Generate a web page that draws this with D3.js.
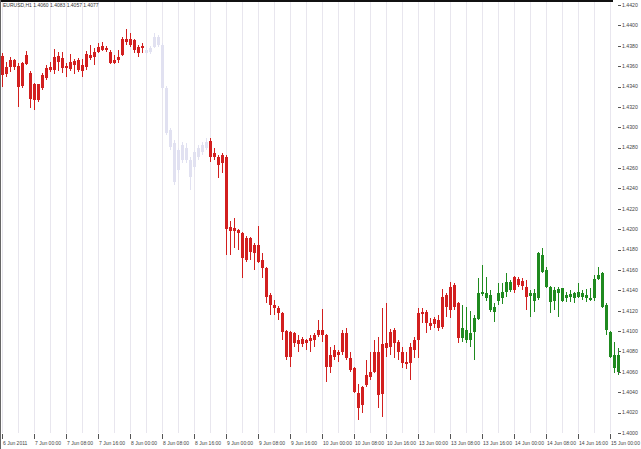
<!DOCTYPE html>
<html>
<head>
<meta charset="utf-8">
<script src="https://cdn.jsdelivr.net/npm/d3@7"></script>
<style>
  html, body { margin: 0; padding: 0; background: #fff; }
  svg { display: block; }
  text { font-family: "Liberation Sans", Arial, sans-serif; }
</style>
</head>
<body>
<div class="chart"></div>
<script>
// EURUSD H1 bars
const opens = [
  1.4370,1.4352,1.4359,1.4366,1.4360,1.4341,1.4371,1.4353,1.4342,1.4327,
  1.4339,1.4348,1.4356,1.4356,1.4370,1.4368,1.4358,1.4357,1.4361,1.4366,
  1.4355,1.4359,1.4368,1.4369,1.4374,1.4380,1.4378,1.4374,1.4363,1.4366,
  1.4371,1.4387,1.4387,1.4386,1.4373,1.4380,1.4373,1.4374,1.4379,1.4389,
  1.4381,1.4339,1.4297,1.4285,1.4258,1.4283,1.4280,1.4251,1.4261,1.4271,
  1.4276,1.4280,1.4287,1.4275,1.4263,1.4273,1.4271,1.4198,1.4201,1.4199,
  1.4196,1.4170,1.4191,1.4177,1.4184,1.4170,1.4162,1.4135,1.4126,1.4123,
  1.4118,1.4100,1.4075,1.4098,1.4087,1.4092,1.4088,1.4090,1.4091,1.4096,
  1.4101,1.4096,1.4065,1.4081,1.4077,1.4079,1.4098,1.4074,1.4064,1.4039,
  1.4027,1.4047,1.4055,1.4060,1.4079,1.4038,1.4083,1.4084,1.4101,1.4089,
  1.4079,1.4068,1.4069,1.4081,1.4091,1.4119,1.4119,1.4105,1.4112,1.4103,
  1.4104,1.4124,1.4121,1.4145,1.4128,1.4093,1.4101,1.4091,1.4099,1.4112,
  1.4138,1.4137,1.4135,1.4119,1.4130,1.4132,1.4138,1.4140,1.4153,1.4145,
  1.4149,1.4143,1.4134,1.4137,1.4132,1.4175,1.4160,1.4143,1.4130,1.4141,
  1.4142,1.4132,1.4133,1.4132,1.4138,1.4133,1.4135,1.4131,1.4132,1.4151,
  1.4157,1.4126,1.4099,1.4077,1.4060
];
const highs = [
  1.4373,1.4364,1.4369,1.4367,1.4363,1.4364,1.4375,1.4355,1.4343,1.4342,
  1.4353,1.4361,1.4364,1.4377,1.4374,1.4374,1.4363,1.4372,1.4367,1.4368,
  1.4367,1.4375,1.4381,1.4378,1.4383,1.4384,1.4380,1.4376,1.4371,1.4376,
  1.4389,1.4396,1.4393,1.4387,1.4381,1.4383,1.4379,1.4380,1.4393,1.4391,
  1.4383,1.4341,1.4299,1.4288,1.4280,1.4286,1.4285,1.4271,1.4278,1.4283,
  1.4286,1.4289,1.4289,1.4280,1.4273,1.4275,1.4273,1.4208,1.4211,1.4200,
  1.4197,1.4193,1.4192,1.4186,1.4203,1.4177,1.4163,1.4137,1.4131,1.4125,
  1.4119,1.4101,1.4100,1.4099,1.4096,1.4094,1.4092,1.4096,1.4098,1.4111,
  1.4122,1.4097,1.4084,1.4086,1.4081,1.4101,1.4103,1.4079,1.4065,1.4048,
  1.4046,1.4072,1.4079,1.4091,1.4094,1.4123,1.4128,1.4102,1.4103,1.4091,
  1.4084,1.4079,1.4088,1.4094,1.4123,1.4123,1.4121,1.4113,1.4114,1.4116,
  1.4141,1.4137,1.4148,1.4147,1.4129,1.4126,1.4124,1.4120,1.4116,1.4152,
  1.4165,1.4153,1.4140,1.4128,1.4147,1.4147,1.4157,1.4150,1.4154,1.4153,
  1.4152,1.4150,1.4140,1.4141,1.4178,1.4182,1.4163,1.4144,1.4143,1.4143,
  1.4142,1.4138,1.4140,1.4138,1.4147,1.4140,1.4141,1.4142,1.4155,1.4163,
  1.4158,1.4128,1.4100,1.4089,1.4083
];
const lows = [
  1.4340,1.4349,1.4354,1.4356,1.4320,1.4339,1.4361,1.4319,1.4317,1.4325,
  1.4337,1.4346,1.4354,1.4352,1.4355,1.4353,1.4349,1.4355,1.4352,1.4354,
  1.4349,1.4356,1.4366,1.4361,1.4373,1.4375,1.4374,1.4362,1.4362,1.4363,
  1.4370,1.4381,1.4379,1.4373,1.4369,1.4373,1.4371,1.4372,1.4378,1.4379,
  1.4337,1.4292,1.4278,1.4243,1.4255,1.4265,1.4265,1.4238,1.4258,1.4268,
  1.4273,1.4278,1.4266,1.4268,1.4250,1.4255,1.4175,1.4175,1.4182,1.4180,
  1.4152,1.4168,1.4170,1.4160,1.4167,1.4152,1.4128,1.4116,1.4116,1.4111,
  1.4091,1.4072,1.4065,1.4084,1.4079,1.4084,1.4081,1.4079,1.4084,1.4094,
  1.4089,1.4050,1.4059,1.4072,1.4070,1.4077,1.4072,1.4060,1.4039,1.4013,
  1.4020,1.4045,1.4052,1.4059,1.4025,1.4016,1.4075,1.4077,1.4074,1.4072,
  1.4064,1.4063,1.4052,1.4074,1.4074,1.4108,1.4098,1.4101,1.4103,1.4100,
  1.4102,1.4114,1.4113,1.4121,1.4088,1.4089,1.4088,1.4084,1.4072,1.4111,
  1.4134,1.4130,1.4119,1.4109,1.4126,1.4127,1.4133,1.4138,1.4137,1.4143,
  1.4140,1.4121,1.4114,1.4119,1.4131,1.4157,1.4142,1.4118,1.4121,1.4114,
  1.4129,1.4129,1.4129,1.4128,1.4132,1.4131,1.4129,1.4130,1.4130,1.4150,
  1.4123,1.4096,1.4074,1.4059,1.4057
];
const closes = [
  1.4351,1.4359,1.4366,1.4359,1.4340,1.4363,1.4362,1.4328,1.4327,1.4342,
  1.4351,1.4358,1.4359,1.4369,1.4364,1.4358,1.4360,1.4364,1.4365,1.4356,
  1.4361,1.4372,1.4371,1.4374,1.4379,1.4376,1.4376,1.4363,1.4366,1.4369,
  1.4387,1.4384,1.4381,1.4376,1.4379,1.4378,1.4376,1.4378,1.4389,1.4381,
  1.4339,1.4294,1.4281,1.4246,1.4278,1.4268,1.4268,1.4268,1.4276,1.4280,
  1.4283,1.4286,1.4271,1.4271,1.4271,1.4265,1.4200,1.4202,1.4198,1.4196,
  1.4172,1.4191,1.4178,1.4184,1.4168,1.4162,1.4133,1.4126,1.4123,1.4118,
  1.4099,1.4075,1.4099,1.4088,1.4091,1.4087,1.4091,1.4093,1.4096,1.4101,
  1.4096,1.4065,1.4077,1.4075,1.4079,1.4098,1.4074,1.4062,1.4040,1.4025,
  1.4045,1.4057,1.4060,1.4079,1.4037,1.4087,1.4088,1.4099,1.4088,1.4079,
  1.4069,1.4070,1.4084,1.4091,1.4118,1.4117,1.4108,1.4108,1.4107,1.4111,
  1.4133,1.4135,1.4143,1.4124,1.4093,1.4103,1.4091,1.4098,1.4113,1.4137,
  1.4136,1.4132,1.4121,1.4124,1.4137,1.4138,1.4148,1.4148,1.4140,1.4151,
  1.4144,1.4133,1.4137,1.4130,1.4177,1.4158,1.4143,1.4129,1.4140,1.4137,
  1.4130,1.4135,1.4136,1.4137,1.4133,1.4137,1.4132,1.4132,1.4151,1.4155,
  1.4124,1.4101,1.4075,1.4064,1.4077
];

// colour bands along the history (bar index where each band starts)
const segmentStarts = [0, 36, 52, 115, 128, 132];
const segmentKinds = ["red", "faded", "red", "green", "red", "green"];

const priceTicks = [1.4000, 1.4020, 1.4040, 1.4060, 1.4080, 1.4100, 1.4120, 1.4140,
  1.4160, 1.4180, 1.4200, 1.4220, 1.4240, 1.4260, 1.4280, 1.4300, 1.4320, 1.4340,
  1.4360, 1.4380, 1.4400, 1.4420];
const timeLabels = ["6 Jun 2011", "7 Jun 00:00", "7 Jun 08:00", "7 Jun 16:00",
  "8 Jun 00:00", "8 Jun 08:00", "8 Jun 16:00", "9 Jun 00:00", "9 Jun 08:00",
  "9 Jun 16:00", "10 Jun 00:00", "10 Jun 08:00", "10 Jun 16:00", "13 Jun 00:00",
  "13 Jun 08:00", "13 Jun 16:00", "14 Jun 00:00", "14 Jun 08:00", "14 Jun 16:00",
  "15 Jun 00:00"];
const symbolName = "EURUSD,H1";

const width = 641, height = 449;
const colors = { red: "#d21f1f", faded: "#e1e1f1", green: "#1f8a1f" };
const n = opens.length;
const fmt = d3.format(".4f");

const svg = d3.select(".chart").append("svg")
  .attr("width", width).attr("height", height)
  .attr("shape-rendering", "crispEdges");

const x = d3.scaleLinear().domain([0, n - 1]).range([2.5, 2.5 + 4 * (n - 1)]);
const y = d3.scaleLinear().domain([1.4000, 1.4420]).range([433, 5]);

// vertical grid every 4 bars
svg.append("g")
  .selectAll("line")
  .data(d3.range(0, n, 4))
  .enter().append("line")
  .attr("x1", d => x(d)).attr("x2", d => x(d))
  .attr("y1", 2).attr("y2", 433)
  .attr("stroke", "#e8e6ee").attr("stroke-width", 1);

// frame
svg.append("rect").attr("x", 0).attr("y", 0).attr("width", 613).attr("height", 2).attr("fill", "#111");
svg.append("line").attr("x1", 0.5).attr("x2", 0.5).attr("y1", 0).attr("y2", height)
  .attr("stroke", "#666");

function kindOf(i) {
  let k = 0;
  segmentStarts.forEach((s, j) => { if (i >= s) k = j; });
  return segmentKinds[k];
}

const bars = d3.range(n).map(i => ({
  i, o: opens[i], h: highs[i], l: lows[i], c: closes[i], kind: kindOf(i)
}));

const candle = svg.append("g").selectAll("g")
  .data(bars)
  .enter().append("g");

candle.append("line")
  .attr("x1", d => x(d.i)).attr("x2", d => x(d.i))
  .attr("y1", d => y(d.h)).attr("y2", d => y(d.l))
  .attr("stroke", d => colors[d.kind]).attr("stroke-width", 1);

candle.append("rect")
  .attr("x", d => x(d.i) - 1.5)
  .attr("width", 3)
  .attr("y", d => y(Math.max(d.o, d.c)))
  .attr("height", d => Math.max(1, y(Math.min(d.o, d.c)) - y(Math.max(d.o, d.c))))
  .attr("fill", d => colors[d.kind]);

// price axis on the right
const yAxis = svg.append("g");
yAxis.selectAll("line")
  .data(priceTicks)
  .enter().append("line")
  .attr("x1", 618).attr("x2", 621)
  .attr("y1", d => Math.round(y(d)) + 0.5).attr("y2", d => Math.round(y(d)) + 0.5)
  .attr("stroke", "#555");
yAxis.selectAll("text")
  .data(priceTicks)
  .enter().append("text")
  .attr("x", 622).attr("y", d => y(d) + 1.8)
  .attr("font-size", "5.2px").attr("fill", "#444")
  .text(d => fmt(d));

// time axis at the bottom
const xAxis = svg.append("g");
xAxis.selectAll("line")
  .data(timeLabels)
  .enter().append("line")
  .attr("x1", (d, k) => x(k * 8)).attr("x2", (d, k) => x(k * 8))
  .attr("y1", 434).attr("y2", 439)
  .attr("stroke", "#555");
xAxis.selectAll("text")
  .data(timeLabels)
  .enter().append("text")
  .attr("x", (d, k) => x(k * 8) + 0.5).attr("y", 445)
  .attr("font-size", "5px").attr("fill", "#444")
  .text(d => d);

// symbol line with the last bar
const last = n - 1;
svg.append("text")
  .attr("x", 3).attr("y", 7)
  .attr("font-size", "5px").attr("fill", "#333")
  .text(symbolName + "  " + [opens[last], highs[last], lows[last], closes[last]].map(fmt).join(" "));
</script>
</body>
</html>
